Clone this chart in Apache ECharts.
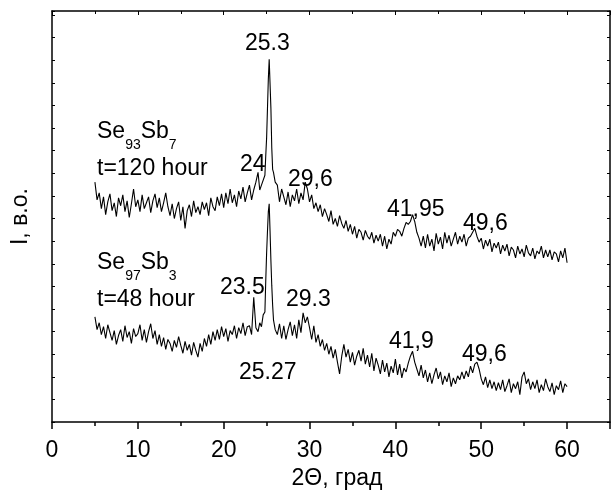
<!DOCTYPE html>
<html>
<head>
<meta charset="utf-8">
<script src="https://cdn.jsdelivr.net/npm/echarts@6/dist/echarts.min.js"></script>
<style>
  html, body { margin: 0; padding: 0; background: #fff; }
  #chart { width: 611px; height: 495px; }
</style>
</head>
<body>
<div id="chart"></div>
<script>
// 2Θ scan points (finer around the main reflection)
const twoTheta = [
  5, 5.25, 5.5, 5.75,  6, 6.25, 6.5, 6.75,  7, 7.25, 7.5, 7.75,
  8, 8.25, 8.5, 8.75,  9, 9.25, 9.5, 9.75,  10, 10.25, 10.5, 10.75,
  11, 11.25, 11.5, 11.75,  12, 12.25, 12.5, 12.75,  13, 13.25, 13.5, 13.75,
  14, 14.25, 14.5, 14.75,  15, 15.25, 15.5, 15.75,  16, 16.25, 16.5, 16.75,
  17, 17.25, 17.5, 17.75,  18, 18.25, 18.5, 18.75,  19, 19.25, 19.5, 19.75,
  20, 20.25, 20.5, 20.75,  21, 21.25, 21.5, 21.75,  22, 22.25, 22.5, 22.75,
  23, 23.25, 23.5, 23.75,
  24, 24.2, 24.4, 24.6, 24.8, 24.9, 25, 25.1, 25.2, 25.3, 25.4, 25.5, 25.6, 25.7, 25.8, 26,
  26.25, 26.5, 26.75,
  27, 27.25, 27.5, 27.75,  28, 28.25, 28.5, 28.75,  29, 29.25, 29.5, 29.75,
  30, 30.25, 30.5, 30.75,  31, 31.25, 31.5, 31.75,  32, 32.25, 32.5, 32.75,
  33, 33.25, 33.5, 33.75,  34, 34.25, 34.5, 34.75,  35, 35.25, 35.5, 35.75,
  36, 36.25, 36.5, 36.75,  37, 37.25, 37.5, 37.75,  38, 38.25, 38.5, 38.75,
  39, 39.25, 39.5, 39.75,  40, 40.25, 40.5, 40.75,  41, 41.25, 41.5, 41.75,
  42, 42.25, 42.5, 42.75,  43, 43.25, 43.5, 43.75,  44, 44.25, 44.5, 44.75,
  45, 45.25, 45.5, 45.75,  46, 46.25, 46.5, 46.75,  47, 47.25, 47.5, 47.75,
  48, 48.25, 48.5, 48.75,  49, 49.25, 49.5, 49.75,  50, 50.25, 50.5, 50.75,
  51, 51.25, 51.5, 51.75,  52, 52.25, 52.5, 52.75,  53, 53.25, 53.5, 53.75,
  54, 54.25, 54.5, 54.75,  55, 55.25, 55.5, 55.75,  56, 56.25, 56.5, 56.75,
  57, 57.25, 57.5, 57.75,  58, 58.25, 58.5, 58.75,  59, 59.25, 59.5, 59.75,
  60
];

// Se93Sb7, t = 120 hour (upper trace, arb. units)
const se93sb7 = [
  244, 226, 233, 217,  229, 211, 224, 232,  215, 223, 209, 228,
  220, 231, 214, 225,  208, 222, 237, 219,  226, 214, 231, 217,
  223, 229, 213, 225,  232, 218, 228, 214,  223, 233, 219, 210,
  222, 207, 217, 224,  205, 219, 197, 215,  221, 209, 225, 213,
  219, 211, 224, 216,  223, 210, 228, 219,  215, 229, 220, 232,
  218, 233, 222, 237,  223, 231, 219, 235,  227, 239, 224, 233,
  241, 226, 236, 244,
  254, 236, 241, 241, 251, 271, 289, 319, 349, 369, 367, 319, 279, 257, 254, 244,
  241, 224, 237,
  229, 221, 234, 219,  231, 225, 237, 222,  233, 226, 244, 237,
  224, 231, 217, 223,  214, 221, 209, 217,  211, 204, 215, 201,
  207, 199, 210, 202,  197, 205, 194, 201,  191, 199, 187, 196,
  193, 185, 195, 189,  186, 193, 182, 190,  184, 191, 179, 189,
  176, 186, 181, 193,  189, 196, 194, 189,  197, 203, 201, 204,
  211, 204, 193, 187,  179, 189, 177, 191,  179, 186, 174, 192,
  181, 188, 176, 193,  182, 190, 179, 186,  193, 181, 189, 183,
  191, 179, 187, 189,  193, 197, 189, 183,  187, 176, 185, 179,
  186, 173, 182, 177,  183, 171, 180, 174,  181, 169, 178, 175,
  167, 179, 171, 176,  168, 180, 172, 169,  177, 166, 174, 171,
  179, 167, 175, 168,  175, 165, 173, 171,  163, 174, 167, 177,
  162
];

// Se97Sb3, t = 48 hour (lower trace, arb. units)
const se97sb3 = [
  107, 94, 101, 89,  97, 85, 99, 91,  83, 93, 79, 88,
  94, 82, 98, 86,  92, 80, 95, 87,  90, 99, 83, 94,
  81, 92, 100, 85,  93, 79, 89, 77,  86, 74, 84, 80,
  72, 83, 76, 87,  78, 70, 82, 73,  79, 68, 81, 73,
  66, 80, 72, 85,  77, 89, 79, 92,  83, 94, 84, 97,
  87, 95, 82, 93,  89, 98, 85, 96,  90, 101, 88, 97,
  98, 89, 127, 96,
  92, 101, 97, 109, 112, 144, 172, 194, 214, 222, 194, 164, 139, 119, 104, 94,
  89, 100, 85,
  98, 84, 94, 102,  88, 99, 85, 104,  91, 111, 101, 107,
  96, 84, 98, 81,  89, 77, 84, 73,  80, 69, 77, 65,
  74, 61, 49, 67,  79, 66, 74, 61,  71, 58, 67, 73,
  62, 75, 59, 68,  56, 70, 52, 65,  58, 49, 63, 51,
  60, 46, 57, 50,  64, 48, 59, 45,  55, 51, 60, 67,
  72, 61, 54, 47,  58, 45, 53, 41,  50, 39, 48, 55,
  44, 51, 38, 47,  41, 50, 36, 45,  39, 47, 43, 51,
  44, 52, 46, 57,  50, 59, 61, 54,  44, 38, 46, 35,
  43, 34, 41, 32,  40, 33, 43, 31,  37, 44, 30, 39,
  34, 41, 28, 46,  51, 39, 44, 33,  41, 34, 43, 30,
  38, 32, 44, 36,  31, 40, 28, 37,  33, 42, 30, 39,
  36
];

const FONT = '"Liberation Sans", Arial, sans-serif';
const FS = 23;

// peak labels and sample captions, placed in pixels
const notes = [
  { text: '25.3', x: 245, y: 44 },
  { text: '24', x: 240, y: 165 },
  { text: '29,6', x: 288, y: 180 },
  { text: '41,95', x: 387, y: 210 },
  { text: '49,6', x: 463, y: 224 },
  { text: '23.5', x: 220, y: 288 },
  { text: '29.3', x: 286, y: 300 },
  { text: '25.27', x: 239, y: 373 },
  { text: '41,9', x: 389, y: 342 },
  { text: '49,6', x: 462, y: 355 },
  { text: 't=120 hour', x: 97, y: 169 },
  { text: 't=48 hour', x: 97, y: 300 }
];
const formulas = [
  { text: '{m|Se}{s|93}{m|Sb}{s|7}', x: 97, y: 132 },
  { text: '{m|Se}{s|97}{m|Sb}{s|3}', x: 97, y: 263 }
];

const zip = ys => twoTheta.map((x, i) => [x, ys[i]]);

const chart = echarts.init(document.getElementById('chart'));

const frameLine = { show: true, onZero: false, lineStyle: { color: '#000', width: 1.5 } };

chart.setOption({
  animation: false,
  backgroundColor: '#fff',
  grid: { left: 52, right: 1, top: 11, bottom: 66 },
  xAxis: [
    {
      type: 'value',
      min: 0,
      max: 65,
      interval: 10,
      name: '2Θ, град',
      nameLocation: 'middle',
      nameGap: 42,
      nameTextStyle: { fontFamily: FONT, fontSize: FS, color: '#000', padding: [0, 0, 0, 12] },
      axisLine: frameLine,
      axisTick: { show: true, inside: false, length: 7, lineStyle: { color: '#000', width: 1.5 } },
      minorTick: { show: true, splitNumber: 2, length: 4, lineStyle: { color: '#000', width: 1.5 } },
      axisLabel: { fontFamily: FONT, fontSize: FS, color: '#000', margin: 17, showMaxLabel: false },
      splitLine: { show: false }
    },
    {
      type: 'value',
      position: 'top',
      min: 0,
      max: 65,
      interval: 10,
      axisLine: frameLine,
      axisTick: { show: true, inside: true, length: 4, lineStyle: { color: '#000', width: 1 } },
      minorTick: { show: true, splitNumber: 2, length: 3, lineStyle: { color: '#000', width: 1 } },
      axisLabel: { show: false },
      splitLine: { show: false }
    }
  ],
  yAxis: [
    {
      type: 'value',
      min: 0,
      max: 418,
      interval: 23,
      name: 'I, в.о.',
      nameLocation: 'middle',
      nameRotate: 90,
      nameGap: 20,
      nameTextStyle: { fontFamily: FONT, fontSize: FS, color: '#000' },
      axisLine: frameLine,
      axisTick: { show: true, inside: true, length: 3, lineStyle: { color: '#000', width: 1 } },
      axisLabel: { show: false },
      splitLine: { show: false }
    },
    {
      type: 'value',
      position: 'right',
      min: 0,
      max: 418,
      interval: 23,
      axisLine: frameLine,
      axisTick: { show: true, inside: true, length: 3, lineStyle: { color: '#000', width: 1 } },
      axisLabel: { show: false },
      splitLine: { show: false }
    }
  ],
  series: [
    {
      name: 'Se93Sb7',
      type: 'line',
      data: zip(se93sb7),
      showSymbol: false,
      lineStyle: { color: '#000', width: 1.1 },
      silent: true
    },
    {
      name: 'Se97Sb3',
      type: 'line',
      data: zip(se97sb3),
      showSymbol: false,
      lineStyle: { color: '#000', width: 1.1 },
      silent: true
    }
  ],
  graphic: [
    ...notes.map(n => ({
      type: 'text',
      x: n.x,
      y: n.y,
      silent: true,
      style: {
        text: n.text,
        fontFamily: FONT,
        fontSize: FS,
        fill: '#000',
        align: 'left',
        verticalAlign: 'middle'
      }
    })),
    ...formulas.map(f => ({
      type: 'text',
      x: f.x,
      y: f.y,
      silent: true,
      style: {
        text: f.text,
        fontFamily: FONT,
        fill: '#000',
        align: 'left',
        verticalAlign: 'middle',
        rich: {
          m: { fontFamily: FONT, fontSize: FS, fill: '#000' },
          s: { fontFamily: FONT, fontSize: 14, fill: '#000', padding: [26, 0, 0, 0] }
        }
      }
    }))
  ]
});
</script>
</body>
</html>
